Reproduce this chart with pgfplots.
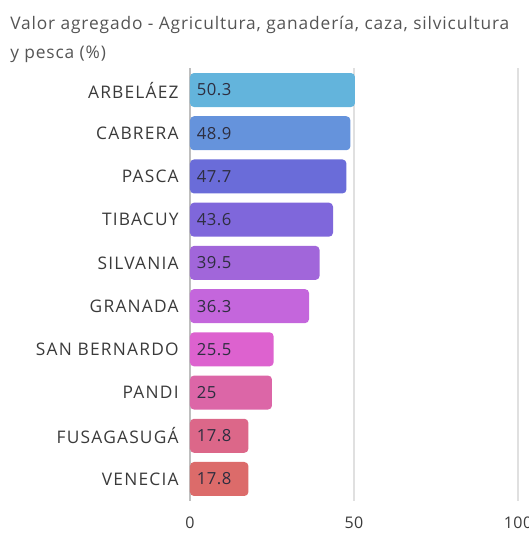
\documentclass[border=0pt]{standalone}
\usepackage{pgfplots}
\pgfplotsset{compat=1.18}
\usepackage{fontspec}
\setmainfont{Open Sans}
\newfontfamily\catfont[LetterSpace=7]{Open Sans}
\newfontfamily\titlefont[LetterSpace=5]{Open Sans}
\newfontfamily\valfont[LetterSpace=3]{Open Sans}
\definecolor{c1}{HTML}{63B4DC}
\definecolor{c2}{HTML}{6593DC}
\definecolor{c3}{HTML}{6A6CD9}
\definecolor{c4}{HTML}{7F67DB}
\definecolor{c5}{HTML}{A166DA}
\definecolor{c6}{HTML}{C466DC}
\definecolor{c7}{HTML}{DD62CF}
\definecolor{c8}{HTML}{DC66A7}
\definecolor{c9}{HTML}{DC6789}
\definecolor{c10}{HTML}{DC6B6A}
\definecolor{titlecol}{HTML}{555555}
\definecolor{labcol}{HTML}{3A3A3A}
\definecolor{valcol}{HTML}{2E2E40}
\begin{document}
\begin{tikzpicture}
\begin{axis}[
  at={(142.5pt,-375.45pt)}, anchor=south west,
  scale only axis, width=246pt, height=324.15pt,
  xmin=0, xmax=100, ymin=-0.5, ymax=9.5,
  axis line style={draw=none},
  xtick={0,50,100}, ytick={0,...,9},
  yticklabels={VENECIA,FUSAGASUGÁ,PANDI,SAN BERNARDO,GRANADA,SILVANIA,TIBACUY,PASCA,CABRERA,ARBELÁEZ},
  major tick length=0pt,
  xmajorgrids, grid style={draw=black!12, line width=0.8pt},
  extra x ticks={0}, extra x tick labels={},
  extra x tick style={grid style={draw=black!25, line width=0.9pt}},
  yticklabel style={font=\catfont\fontsize{13}{15}\selectfont, text=labcol, xshift=-5pt},
  xticklabel style={font=\valfont\fontsize{12}{14}\selectfont, text=labcol, yshift=-9pt},
  /pgf/number format/assume math mode=true,
  clip=false,
]
\addplot[xbar, bar shift=0pt, bar width=25.5pt, fill=c1, draw=none, rounded corners=3pt] coordinates {(50.3,9)};
\addplot[xbar, bar shift=0pt, bar width=25.5pt, fill=c2, draw=none, rounded corners=3pt] coordinates {(48.9,8)};
\addplot[xbar, bar shift=0pt, bar width=25.5pt, fill=c3, draw=none, rounded corners=3pt] coordinates {(47.7,7)};
\addplot[xbar, bar shift=0pt, bar width=25.5pt, fill=c4, draw=none, rounded corners=3pt] coordinates {(43.6,6)};
\addplot[xbar, bar shift=0pt, bar width=25.5pt, fill=c5, draw=none, rounded corners=3pt] coordinates {(39.5,5)};
\addplot[xbar, bar shift=0pt, bar width=25.5pt, fill=c6, draw=none, rounded corners=3pt] coordinates {(36.3,4)};
\addplot[xbar, bar shift=0pt, bar width=25.5pt, fill=c7, draw=none, rounded corners=3pt] coordinates {(25.5,3)};
\addplot[xbar, bar shift=0pt, bar width=25.5pt, fill=c8, draw=none, rounded corners=3pt] coordinates {(25,2)};
\addplot[xbar, bar shift=0pt, bar width=25.5pt, fill=c9, draw=none, rounded corners=3pt] coordinates {(17.8,1)};
\addplot[xbar, bar shift=0pt, bar width=25.5pt, fill=c10, draw=none, rounded corners=3pt] coordinates {(17.8,0)};
\addplot[draw=none, mark=none, nodes near coords, point meta=explicit symbolic,
  every node near coord/.append style={anchor=west, inner sep=0pt, xshift=5pt, text=valcol, font=\valfont\fontsize{12.5}{14}\selectfont}]
  coordinates {(0,9)[50.3] (0,8)[48.9] (0,7)[47.7] (0,6)[43.6] (0,5)[39.5] (0,4)[36.3] (0,3)[25.5] (0,2)[25] (0,1)[17.8] (0,0)[17.8]};
\end{axis}
\node[anchor=base west, inner sep=0pt, text=titlecol, font=\titlefont\fontsize{13}{15}\selectfont] at (7.5pt,-21.75pt) {Valor agregado - Agricultura, ganadería, caza, silvicultura};
\node[anchor=base west, inner sep=0pt, text=titlecol, font=\titlefont\fontsize{13}{15}\selectfont] at (7.5pt,-43.5pt) {y pesca (\%)};
\pgfresetboundingbox
\path (0pt,0pt) rectangle (396.75pt,-399.75pt);
\end{tikzpicture}
\end{document}
